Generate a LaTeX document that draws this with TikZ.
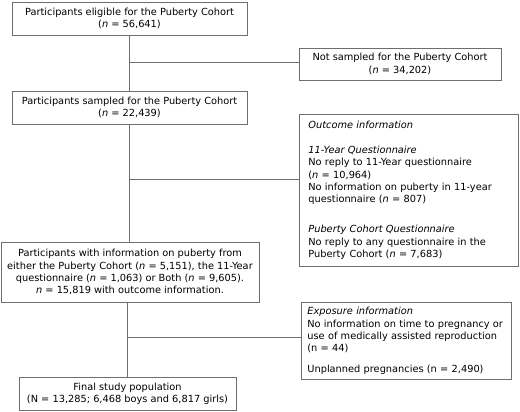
\documentclass[tikz,border=0pt]{standalone}
\usepackage{fontspec}
\setmainfont{DejaVu Sans}
\usepackage{xcolor}
\usetikzlibrary{positioning,calc}
\definecolor{rule}{HTML}{6E6E6E}

\begin{document}
\begin{tikzpicture}[
    x=1pt, y=-1pt,
    block/.style={draw=rule, line width=0.8pt, fill=white, align=center, inner xsep=2pt, inner ysep=0pt, font=\fontsize{9.8}{12.3}\selectfont},
    note/.style={draw=rule, line width=0.8pt, fill=white, align=left, anchor=north west, inner xsep=9pt, inner ysep=7pt, font=\fontsize{9.8}{12.3}\selectfont},
    link/.style={draw=rule, line width=0.8pt}
]
    \useasboundingbox (0,0) rectangle (520,412);

    \node[block, minimum width=235pt, minimum height=33pt] (elig) at (129.5,18.5) {Participants eligible for the Puberty Cohort\\(\textit{n} = 56,641)};
    \node[block, minimum width=202pt, minimum height=32pt] (notsamp) at (400,64) {Not sampled for the Puberty Cohort\\(\textit{n} = 34,202)};
    \node[block, minimum width=235pt, minimum height=33pt] (sampled) at (129.5,107.5) {Participants sampled for the Puberty Cohort\\(\textit{n} = 22,439)};
    \node[note, text width=201pt] (outcome) at (299,114) {\textit{Outcome information}\\[12.3pt]
        \textit{11-Year Questionnaire}\\
        No reply to 11-Year questionnaire\\
        (\textit{n} = 10,964)\\
        No information on puberty in 11-year\\
        questionnaire (\textit{n} = 807)\\[18pt]
        \textit{Puberty Cohort Questionnaire}\\
        No reply to any questionnaire in the\\
        Puberty Cohort (\textit{n} = 7,683)};
    \node[note, text width=198pt, inner xsep=6pt, inner ysep=5pt] (expo) at (301,302) {\textit{Exposure information}\\
        No information on time to pregnancy or\\
        use of medically assisted reproduction\\
        (n = 44)\\[8pt]
        Unplanned pregnancies (n = 2,490)};
    \node[block, minimum width=258pt, minimum height=60pt] (info) at (130,272) {Participants with information on puberty from\\either the Puberty Cohort (\textit{n} = 5,151), the 11-Year\\questionnaire (\textit{n} = 1,063) or Both (\textit{n} = 9,605).\\\textit{n} = 15,819 with outcome information.};
    \node[block, minimum width=217pt, minimum height=33pt] (final) at (127.5,393.5) {Final study population\\(N = 13,285; 6,468 boys and 6,817 girls)};

    % main stem
    \draw[link] (elig.south) -- (sampled.north);
    \draw[link] (sampled.south) -- (sampled.south |- info.north);
    \draw[link] (info.south -| final.north) -- (final.north);

    % exclusions
    \coordinate (b1) at (129.5,62);
    \coordinate (b2) at (129.5,179);
    \coordinate (b3) at (127.5,337);
    \draw[link] (b1) -- (b1 -| notsamp.west);
    \draw[link] (b2) -- (b2 -| outcome.west);
    \draw[link] (b3) -- (b3 -| expo.west);
\end{tikzpicture}
\end{document}
